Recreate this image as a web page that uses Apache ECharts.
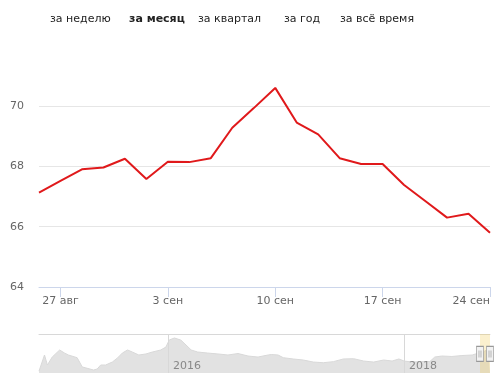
<!DOCTYPE html>
<html><head><meta charset="utf-8">
<script src="https://cdn.jsdelivr.net/npm/echarts@6/dist/echarts.min.js"></script>
<style>html,body{margin:0;padding:0;background:#fff}#c{width:500px;height:389px}</style>
</head><body><div id="c"></div>
<script>
// ---- data ----
const periods = ['за неделю', 'за месяц', 'за квартал', 'за год', 'за всё время'];
const activePeriod = 'за месяц';

const dates = ['2018-08-24','2018-08-27','2018-08-28','2018-08-29','2018-08-30','2018-08-31',
  '2018-09-03','2018-09-04','2018-09-05','2018-09-06','2018-09-07',
  '2018-09-10','2018-09-11','2018-09-12','2018-09-13','2018-09-14',
  '2018-09-17','2018-09-18','2018-09-19','2018-09-20','2018-09-21','2018-09-24'];
const values = [67.13, 67.52, 67.90, 67.96, 68.25, 67.58,
  68.15, 68.14, 68.27, 69.28, 69.93,
  70.60, 69.45, 69.06, 68.27, 68.08,
  68.08, 67.38, 66.84, 66.30, 66.43, 65.80];
const tickLabels = ['27 авг', '3 сен', '10 сен', '17 сен', '24 сен'];
const monthNames = ['янв','фев','мар','апр','май','июн','июл','авг','сен','окт','ноя','дек'];
const yTicks = [64, 66, 68, 70];

const navDates = ['2014-11-28','2014-12-15','2014-12-24','2015-01-08','2015-01-31','2015-02-15','2015-02-27','2015-03-26','2015-04-11','2015-04-26','2015-05-16','2015-05-27','2015-06-07','2015-06-22','2015-07-13','2015-07-29','2015-08-13','2015-08-29','2015-09-13','2015-10-03','2015-10-25','2015-11-14','2015-12-10','2015-12-26','2016-01-05','2016-01-21','2016-02-10','2016-02-26','2016-03-13','2016-04-02','2016-05-03','2016-06-04','2016-07-05','2016-08-05','2016-09-05','2016-10-06','2016-11-06','2016-11-16','2016-12-07','2016-12-23','2017-01-23','2017-02-23','2017-03-26','2017-04-26','2017-05-27','2017-06-27','2017-07-29','2017-08-29','2017-09-29','2017-10-30','2017-11-25','2017-12-16','2018-01-01','2018-01-26','2018-03-07','2018-03-22','2018-04-06','2018-04-28','2018-05-29','2018-06-29','2018-07-31','2018-08-20'];
const navValues = [48.0,65.4,54.6,63.2,70.8,67.5,65.4,62.5,52.5,51.1,49.2,50.3,54.6,54.6,57.8,62.2,67.5,70.8,68.6,65.4,66.5,68.6,70.8,74.0,81.5,83.7,81.5,76.2,70.8,68.6,67.5,66.5,65.4,67.0,64.3,63.2,65.4,65.9,65.4,62.5,61.1,60.0,57.8,57.1,58.2,61.1,61.4,58.9,57.8,60.0,58.9,61.1,58.9,57.8,58.4,58.4,63.2,64.3,63.8,64.8,65.4,67.5];
const navYearLabels = ['2016', '2018'];
const navRange = ['2014-11-28', '2018-09-24'];
const selRange = ['2018-08-24', '2018-09-24'];

// ---- build ----
function ts(s) { const p = s.split('-'); return new Date(+p[0], +p[1] - 1, +p[2]).getTime(); }
function dayLabel(s) { const p = s.split('-'); return (+p[2]) + ' ' + monthNames[+p[1] - 1]; }
const categories = dates.map(dayLabel);
const showTick = (i) => tickLabels.indexOf(categories[i]) >= 0;
const navData = navDates.map((d, i) => [ts(d), navValues[i]])
  .concat(dates.map((d, i) => [ts(d), values[i]]));
const yearTs = navYearLabels.map(y => new Date(+y, 0, 1).getTime());
const FONT = 'DejaVu Sans';
const NAV_MIN = 46, NAV_MAX = 88;
const handleY = NAV_MIN + (NAV_MAX - NAV_MIN) * 0.49;

const periodX = [50, 129, 198, 284, 340];
const graphic = periods.map((p, i) => ({
  type: 'text', left: periodX[i], top: 14,
  style: { text: p, fill: '#222', font: (p === activePeriod ? 'bold ' : '') + '11px "' + FONT + '"' }
}));

const chart = echarts.init(document.getElementById('c'), null, { renderer: 'canvas' });
chart.setOption({
  animation: false,
  textStyle: { fontFamily: FONT },
  graphic: graphic,
  grid: [
    { left: 39, right: 10, top: 106, height: 181 },
    { left: 39, right: 10, top: 334, height: 39 }
  ],
  xAxis: [
    {
      type: 'category', gridIndex: 0, data: categories, boundaryGap: false,
      axisLine: { lineStyle: { color: '#ccd6eb' } },
      axisTick: { show: true, length: 10, interval: (i) => showTick(i), lineStyle: { color: '#ccd6eb' } },
      axisLabel: { interval: (i) => showTick(i), color: '#666', fontSize: 11, margin: 9, alignMaxLabel: 'right', fontFamily: FONT },
      splitLine: { show: false }
    },
    {
      type: 'value', gridIndex: 1, min: ts(navRange[0]), max: ts(navRange[1]), z: 10,
      axisLine: { show: false }, axisTick: { show: false }, splitLine: { show: false },
      axisLabel: {
        inside: true, customValues: yearTs, align: 'left', padding: [0, 0, 0, 5], margin: 1,
        color: '#888', fontSize: 11, fontFamily: FONT,
        formatter: (v) => { const d = new Date(v); const y = String(d.getFullYear());
          return navYearLabels.indexOf(y) >= 0 ? y : ''; }
      }
    },
    {
      type: 'value', gridIndex: 1, position: 'top', min: ts(navRange[0]), max: ts(navRange[1]),
      axisLine: { show: true, lineStyle: { color: '#d8d8d8' } },
      axisTick: { show: false }, axisLabel: { show: false }, splitLine: { show: false }
    }
  ],
  yAxis: [
    {
      type: 'value', gridIndex: 0, min: yTicks[0], max: yTicks[yTicks.length - 1], interval: yTicks[1] - yTicks[0],
      axisLine: { show: false }, axisTick: { show: false },
      axisLabel: { color: '#666', fontSize: 11, margin: 15, fontFamily: FONT },
      splitLine: { lineStyle: { color: '#e6e6e6' } }
    },
    {
      type: 'value', gridIndex: 1, min: NAV_MIN, max: NAV_MAX,
      axisLine: { show: false }, axisTick: { show: false }, axisLabel: { show: false }, splitLine: { show: false }
    }
  ],
  series: [
    {
      type: 'line', xAxisIndex: 0, yAxisIndex: 0, data: values, clip: false,
      showSymbol: false, symbol: 'none',
      lineStyle: { color: '#e0191b', width: 2 }, itemStyle: { color: '#e0191b' }
    },
    {
      type: 'line', xAxisIndex: 1, yAxisIndex: 1, data: navData,
      showSymbol: false, symbol: 'none',
      lineStyle: { color: '#d9d9d9', width: 1 },
      areaStyle: { color: '#e2e2e2', opacity: 1 },
      markLine: {
        silent: true, symbol: ['none', 'none'], label: { show: false },
        lineStyle: { color: '#d8d8d8', type: 'solid', width: 1 },
        data: yearTs.map(t => ({ xAxis: t }))
      },
      markArea: {
        silent: true, z: 6, itemStyle: { color: 'rgba(240,200,80,0.28)' },
        data: [[{ xAxis: ts(selRange[0]) }, { xAxis: ts(selRange[1]) }]]
      },
      markPoint: {
        silent: true, z: 8,
        symbol: 'path://M0,0 L7,0 L7,15 L0,15 Z M2.5,4 L2.5,11 M4.5,4 L4.5,11',
        symbolSize: [7, 15], symbolKeepAspect: false,
        itemStyle: { color: '#f2f2f2', borderColor: '#999', borderWidth: 1 },
        label: { show: false },
        data: selRange.map(d => ({ coord: [ts(d), handleY] }))
      }
    }
  ]
});
</script>
</body></html>
